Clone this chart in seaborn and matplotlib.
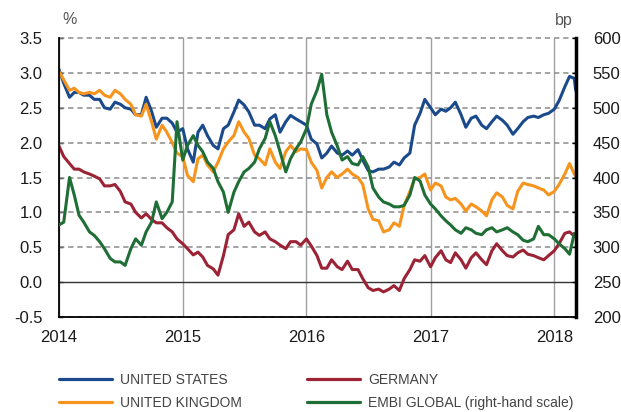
import numpy as np
import pandas as pd
import seaborn as sns
import matplotlib.dates as mdates
from matplotlib import pyplot as plt
from matplotlib.lines import Line2D

# Semi-monthly readings (1st and 15th of each month), last point early March 2018
dates = list(pd.date_range("2014-01-01", "2018-03-01", freq="SMS")) + [pd.Timestamp("2018-03-05")]

# 10-year yields, %
us = [3.05, 2.85, 2.65, 2.72, 2.72, 2.68, 2.68, 2.62, 2.62, 2.50, 2.48, 2.58,
      2.55, 2.50, 2.48, 2.40, 2.40, 2.65, 2.45, 2.22, 2.35, 2.35, 2.28, 2.15,
      2.20, 1.91, 1.72, 2.15, 2.25, 2.10, 1.96, 1.91, 2.20, 2.25, 2.44, 2.61,
      2.54, 2.44, 2.25, 2.25, 2.20, 2.34, 2.40, 2.15, 2.30, 2.39, 2.34, 2.30,
      2.25, 2.05, 1.98, 1.78, 1.85, 1.95, 1.85, 1.82, 1.88, 1.82, 1.90, 1.75,
      1.60, 1.58, 1.62, 1.62, 1.65, 1.72, 1.68, 1.78, 1.85, 2.25, 2.42, 2.62,
      2.50, 2.40, 2.48, 2.45, 2.50, 2.58, 2.40, 2.22, 2.35, 2.38, 2.25, 2.20,
      2.30, 2.38, 2.32, 2.25, 2.12, 2.20, 2.30, 2.36, 2.38, 2.36, 2.40, 2.42,
      2.48, 2.60, 2.80, 2.95, 2.92, 2.75]
uk = [3.02, 2.90, 2.75, 2.78, 2.72, 2.70, 2.72, 2.70, 2.75, 2.68, 2.65, 2.75,
      2.70, 2.62, 2.55, 2.40, 2.38, 2.55, 2.30, 2.05, 2.25, 2.15, 2.00, 1.85,
      1.80, 1.53, 1.44, 1.77, 1.82, 1.68, 1.58, 1.72, 1.91, 2.01, 2.10, 2.30,
      2.15, 2.06, 1.82, 1.77, 1.68, 1.91, 1.72, 1.63, 1.87, 1.96, 1.87, 1.91,
      1.90, 1.72, 1.60, 1.35, 1.50, 1.58, 1.50, 1.55, 1.62, 1.55, 1.50, 1.40,
      1.05, 0.90, 0.88, 0.72, 0.75, 0.85, 0.80, 1.10, 1.30, 1.48, 1.50, 1.55,
      1.32, 1.42, 1.38, 1.22, 1.18, 1.20, 1.12, 1.02, 1.12, 1.08, 1.02, 0.95,
      1.18, 1.28, 1.22, 1.10, 1.05, 1.30, 1.42, 1.40, 1.38, 1.35, 1.32, 1.25,
      1.30, 1.40, 1.55, 1.70, 1.55, 1.52]
germany = [1.95, 1.80, 1.70, 1.62, 1.62, 1.58, 1.55, 1.52, 1.48, 1.38, 1.38, 1.40,
           1.30, 1.15, 1.12, 1.00, 0.92, 0.98, 0.90, 0.85, 0.85, 0.78, 0.72, 0.62,
           0.55, 0.48, 0.39, 0.43, 0.36, 0.24, 0.19, 0.10, 0.38, 0.68, 0.75, 0.98,
           0.80, 0.86, 0.72, 0.67, 0.72, 0.62, 0.58, 0.53, 0.48, 0.58, 0.58, 0.53,
           0.62, 0.52, 0.38, 0.20, 0.20, 0.32, 0.22, 0.18, 0.30, 0.18, 0.18, 0.05,
           -0.08, -0.12, -0.10, -0.14, -0.10, -0.05, -0.12, 0.05, 0.18, 0.32, 0.30, 0.38,
           0.22, 0.35, 0.45, 0.32, 0.28, 0.42, 0.32, 0.20, 0.35, 0.42, 0.32, 0.25,
           0.45, 0.55, 0.45, 0.38, 0.36, 0.42, 0.46, 0.40, 0.38, 0.35, 0.32, 0.38,
           0.45, 0.55, 0.70, 0.72, 0.66, 0.65]
# EMBI Global spread, bp (right-hand scale)
embi = [332, 336, 400, 375, 346, 336, 322, 317, 308, 298, 284, 279,
        279, 274, 298, 312, 303, 322, 336, 365, 341, 350, 365, 480,
        425, 446, 460, 446, 437, 422, 413, 394, 379, 350, 379, 394,
        408, 413, 422, 441, 456, 480, 460, 437, 408, 427, 441, 451,
        470, 505, 525, 548, 490, 465, 445, 425, 430, 420, 418, 430,
        415, 385, 372, 365, 362, 358, 358, 360, 375, 400, 395, 375,
        362, 355, 345, 338, 332, 325, 320, 328, 325, 320, 318, 325,
        328, 322, 325, 328, 322, 318, 310, 308, 312, 330, 318, 318,
        312, 305, 298, 290, 320, 315]

labels = ["UNITED STATES", "UNITED KINGDOM", "GERMANY", "EMBI GLOBAL (right-hand scale)"]
colors = ["#1b4a8c", "#f7941d", "#9b2335", "#1f6e35"]
left_ticks = [-0.5, 0.0, 0.5, 1.0, 1.5, 2.0, 2.5, 3.0, 3.5]
right_ticks = [200, 250, 300, 350, 400, 450, 500, 550, 600]

sns.set_style("white")
plt.rcParams['font.family'] = ['Liberation Sans', 'DejaVu Sans']

fig = plt.figure(figsize=(6.21, 4.12), dpi=100)
ax = fig.add_axes([59 / 621, 95 / 412, 517 / 621, 279 / 412])

grey = "#a0a0a0"
for vals, c in zip([us, uk, germany], colors[:3]):
    sns.lineplot(x=dates, y=vals, ax=ax, color=c, lw=2.2, zorder=3)

ax.set_ylim(-0.5, 3.5)
ax.set_yticks(left_ticks)
ax.set_yticklabels([f"{v:.1f}" for v in left_ticks])
ax.set_xlim(pd.Timestamp("2014-01-01"), pd.Timestamp("2018-03-06"))
ax.xaxis.set_major_locator(mdates.YearLocator())
ax.xaxis.set_major_formatter(mdates.DateFormatter("%Y"))
ax.tick_params(axis="both", direction="in", length=3, width=1, color="black",
               labelsize=12, labelcolor="#1a1a1a")
ax.tick_params(axis="y", pad=12)
ax.tick_params(axis="x", pad=9)
ax.grid(True, axis="x", color=grey, linewidth=1, linestyle="-", zorder=1)

# dashed horizontal grid, solid black zero line
for v in left_ticks:
    if v == 0:
        ax.axhline(v, color="#333333", lw=1, zorder=2)
    else:
        ax.axhline(v, color="#8c8c8c", lw=1.1, linestyle=(0, (3.5, 2.5)),
                   zorder=2, clip_on=False, snap=True)

for s in ["top", "right"]:
    ax.spines[s].set_visible(False)
for s in ["left", "bottom"]:
    ax.spines[s].set_color("black")
    ax.spines[s].set_linewidth(1.3)
    ax.spines[s].set_zorder(4)

ax2 = ax.twinx()
sns.lineplot(x=dates, y=embi, ax=ax2, color=colors[3], lw=2.2)
ax2.set_ylim(200, 600)
ax2.set_yticks(right_ticks)
ax2.tick_params(axis="y", direction="in", length=3, width=1, color="black",
                labelsize=12, labelcolor="#1a1a1a", pad=12)
for s in ["top", "left", "bottom"]:
    ax2.spines[s].set_visible(False)
ax2.spines["right"].set_color("black")
ax2.spines["right"].set_linewidth(2.5)
ax.set_xlabel("")
ax.set_ylabel("")
ax2.set_ylabel("")

fig.text(62 / 621, 1 - 19 / 412, "%", fontsize=11.5, color="#555555", ha="left", va="center")
fig.text(573 / 621, 1 - 20 / 412, "bp", fontsize=11.5, color="#555555", ha="right", va="center")

handles = [Line2D([0], [0], color=c, lw=2.3) for c in colors]
prop = {"family": ["Liberation Sans Narrow", "Liberation Sans"], "size": 10}
for i, x0 in [(0, 59), (2, 307)]:
    leg = fig.legend(handles[i:i + 2], labels[i:i + 2], loc="upper left",
                     bbox_to_anchor=(x0 / 621, 1 - 373 / 412), frameon=False,
                     prop=prop, handlelength=3.8, handletextpad=0.6,
                     labelspacing=0.62, borderpad=0, borderaxespad=0)
    for t in leg.get_texts():
        t.set_color("#444444")

fig.savefig("out.png", dpi=100)
